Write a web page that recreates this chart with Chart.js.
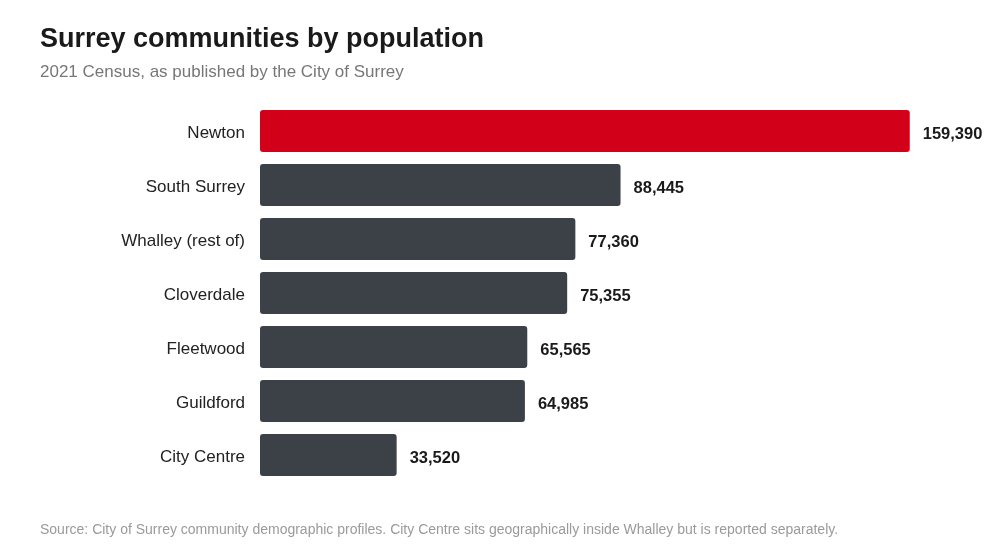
<!DOCTYPE html>
<html>
<head>
<meta charset="utf-8">
<script src="https://cdn.jsdelivr.net/npm/chart.js@4"></script>
<style>
  html, body { margin: 0; padding: 0; background: #fff; }
  body { width: 1000px; height: 558px; position: relative; overflow: hidden; font-family: "Liberation Sans", Arial, sans-serif; }
  .txt { position: absolute; left: 40px; white-space: nowrap; line-height: normal; }
  #title { top: 23px; font-size: 27px; font-weight: bold; color: #1a1a1a; }
  #subtitle { top: 62px; font-size: 17px; color: #777; }
  #source { top: 521px; font-size: 14px; color: #9a9a9a; }
  #wrap { position: absolute; left: 0; top: 0; width: 1000px; height: 558px; }
</style>
</head>
<body>
<div id="wrap"><canvas id="pop-chart"></canvas></div>
<div class="txt" id="title">Surrey communities by population</div>
<div class="txt" id="subtitle">2021 Census, as published by the City of Surrey</div>
<div class="txt" id="source">Source: City of Surrey community demographic profiles. City Centre sits geographically inside Whalley but is reported separately.</div>
<script>
const communities = ['Newton', 'South Surrey', 'Whalley (rest of)', 'Cloverdale', 'Fleetwood', 'Guildford', 'City Centre'];
const population = [159390, 88445, 77360, 75355, 65565, 64985, 33520];
const highlight = 'Newton';

const barColors = communities.map(c => c === highlight ? '#d20019' : '#3c4148');

// write the number at the end of every bar
const valueLabels = {
    id: 'valueLabels',
    afterDatasetsDraw(chart) {
        const ctx = chart.ctx;
        const meta = chart.getDatasetMeta(0);
        ctx.save();
        ctx.font = 'bold 16.5px "Liberation Sans", Arial, sans-serif';
        ctx.fillStyle = '#1a1a1a';
        ctx.textAlign = 'left';
        ctx.textBaseline = 'middle';
        meta.data.forEach((bar, i) => {
            ctx.fillText(population[i].toLocaleString('en-US'), bar.x + 13, bar.y + 3);
        });
        ctx.restore();
    }
};

const config = {
    type: 'bar',
    data: {
        labels: communities,
        datasets: [{
            data: population,
            backgroundColor: barColors,
            borderRadius: 3,
            borderSkipped: false,
            barPercentage: 0.78,
            categoryPercentage: 1
        }]
    },
    options: {
        indexAxis: 'y',
        responsive: true,
        maintainAspectRatio: false,
        animation: false,
        layout: { padding: { top: 104, bottom: 76, left: 0, right: 47 } },
        plugins: {
            legend: { display: false },
            tooltip: { enabled: false }
        },
        scales: {
            x: { display: false, min: 0, max: 170000 },
            y: {
                afterFit: (scale) => { scale.width = 260; },
                grid: { display: false, drawTicks: false },
                border: { display: false },
                ticks: {
                    padding: 15,
                    labelOffset: 2,
                    color: '#222',
                    font: { family: '"Liberation Sans", Arial, sans-serif', size: 17 }
                }
            }
        }
    },
    plugins: [valueLabels]
};

const ctx = document.getElementById('pop-chart').getContext('2d');
new Chart(ctx, config);
</script>
</body>
</html>
